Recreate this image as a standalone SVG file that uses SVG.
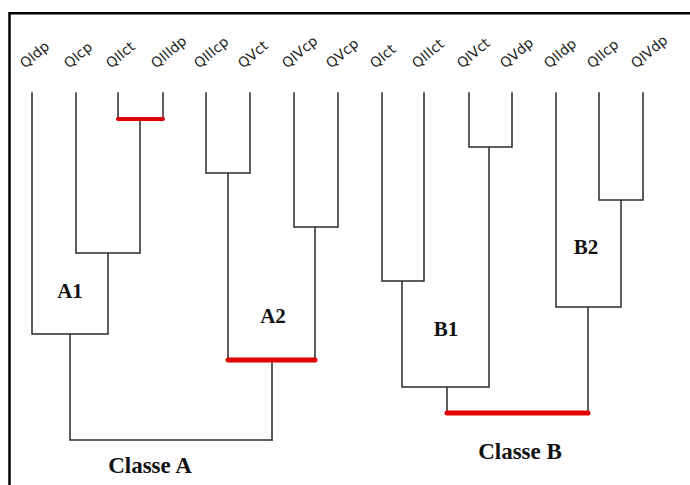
<svg xmlns="http://www.w3.org/2000/svg" width="690" height="485" viewBox="0 0 690 485">
<style>
.ln{stroke:#2a2a2a;stroke-width:1.5;fill:none;stroke-linecap:square}
.rd{stroke:#e00000;fill:none;stroke-linecap:round}
.lf{font-family:"DejaVu Sans","Liberation Sans",sans-serif;font-size:14px;fill:#222}
.cl{font-family:"Liberation Serif","Times New Roman",serif;font-weight:bold;font-size:21px;fill:#111;text-anchor:middle}
.cs{font-family:"Liberation Serif","Times New Roman",serif;font-weight:bold;font-size:23px;fill:#111;text-anchor:middle}
</style>
<rect width="690" height="485" fill="#fff"/>
<path d="M9.5 485 V13.3 H690" stroke="#000" stroke-width="2.5" fill="none"/>
<g id="connectors">
<path class="ln" d="M118 93V119M163 93V119M140 119V253M76 93V253H140M108 253V334M32 93V334H108M70 334V440H272"/>
<path class="ln" d="M206 93V173H250V93M228 173V360M294 93V227H338V93M315 227V360M272 360V440"/>
<path class="ln" d="M382 93V281H424V93M402 281V387H489M469 93V147H512V93M489 147V387M447 387V413"/>
<path class="ln" d="M599 93V200H643V93M621 200V307H556V93M588 307V413"/>
<path class="rd" stroke-width="4" d="M118 119H163"/>
<path class="rd" stroke-width="5" d="M228 360H315"/>
<path class="rd" stroke-width="5" d="M447 413H588"/>
</g>
<g id="leaves">
<g id="n-QIdp"><text class="lf" transform="translate(25,69) rotate(-40)">QIdp</text></g>
<g id="n-QIcp"><text class="lf" transform="translate(69,69) rotate(-40)">QIcp</text></g>
<g id="n-QIIct"><text class="lf" transform="translate(111,69) rotate(-40)">QIIct</text></g>
<g id="n-QIIIdp"><text class="lf" transform="translate(156,69) rotate(-40)">QIIIdp</text></g>
<g id="n-QIIIcp"><text class="lf" transform="translate(199,69) rotate(-40)">QIIIcp</text></g>
<g id="n-QVct"><text class="lf" transform="translate(243,69) rotate(-40)">QVct</text></g>
<g id="n-QIVcp"><text class="lf" transform="translate(287,69) rotate(-40)">QIVcp</text></g>
<g id="n-QVcp"><text class="lf" transform="translate(331,69) rotate(-40)">QVcp</text></g>
<g id="n-QIct"><text class="lf" transform="translate(375,69) rotate(-40)">QIct</text></g>
<g id="n-QIIIct"><text class="lf" transform="translate(417,69) rotate(-40)">QIIIct</text></g>
<g id="n-QIVct"><text class="lf" transform="translate(462,69) rotate(-40)">QIVct</text></g>
<g id="n-QVdp"><text class="lf" transform="translate(505,69) rotate(-40)">QVdp</text></g>
<g id="n-QIIdp"><text class="lf" transform="translate(549,69) rotate(-40)">QIIdp</text></g>
<g id="n-QIIcp"><text class="lf" transform="translate(592,69) rotate(-40)">QIIcp</text></g>
<g id="n-QIVdp"><text class="lf" transform="translate(636,69) rotate(-40)">QIVdp</text></g>
</g>
<g id="n-A1"><text class="cl" x="70" y="298">A1</text></g>
<g id="n-A2"><text class="cl" x="273" y="323">A2</text></g>
<g id="n-B1"><text class="cl" x="446" y="336">B1</text></g>
<g id="n-B2"><text class="cl" x="586" y="254">B2</text></g>
<g id="n-ClasseA"><text class="cs" x="150" y="473">Classe A</text></g>
<g id="n-ClasseB"><text class="cs" x="520" y="459">Classe B</text></g>
</svg>
